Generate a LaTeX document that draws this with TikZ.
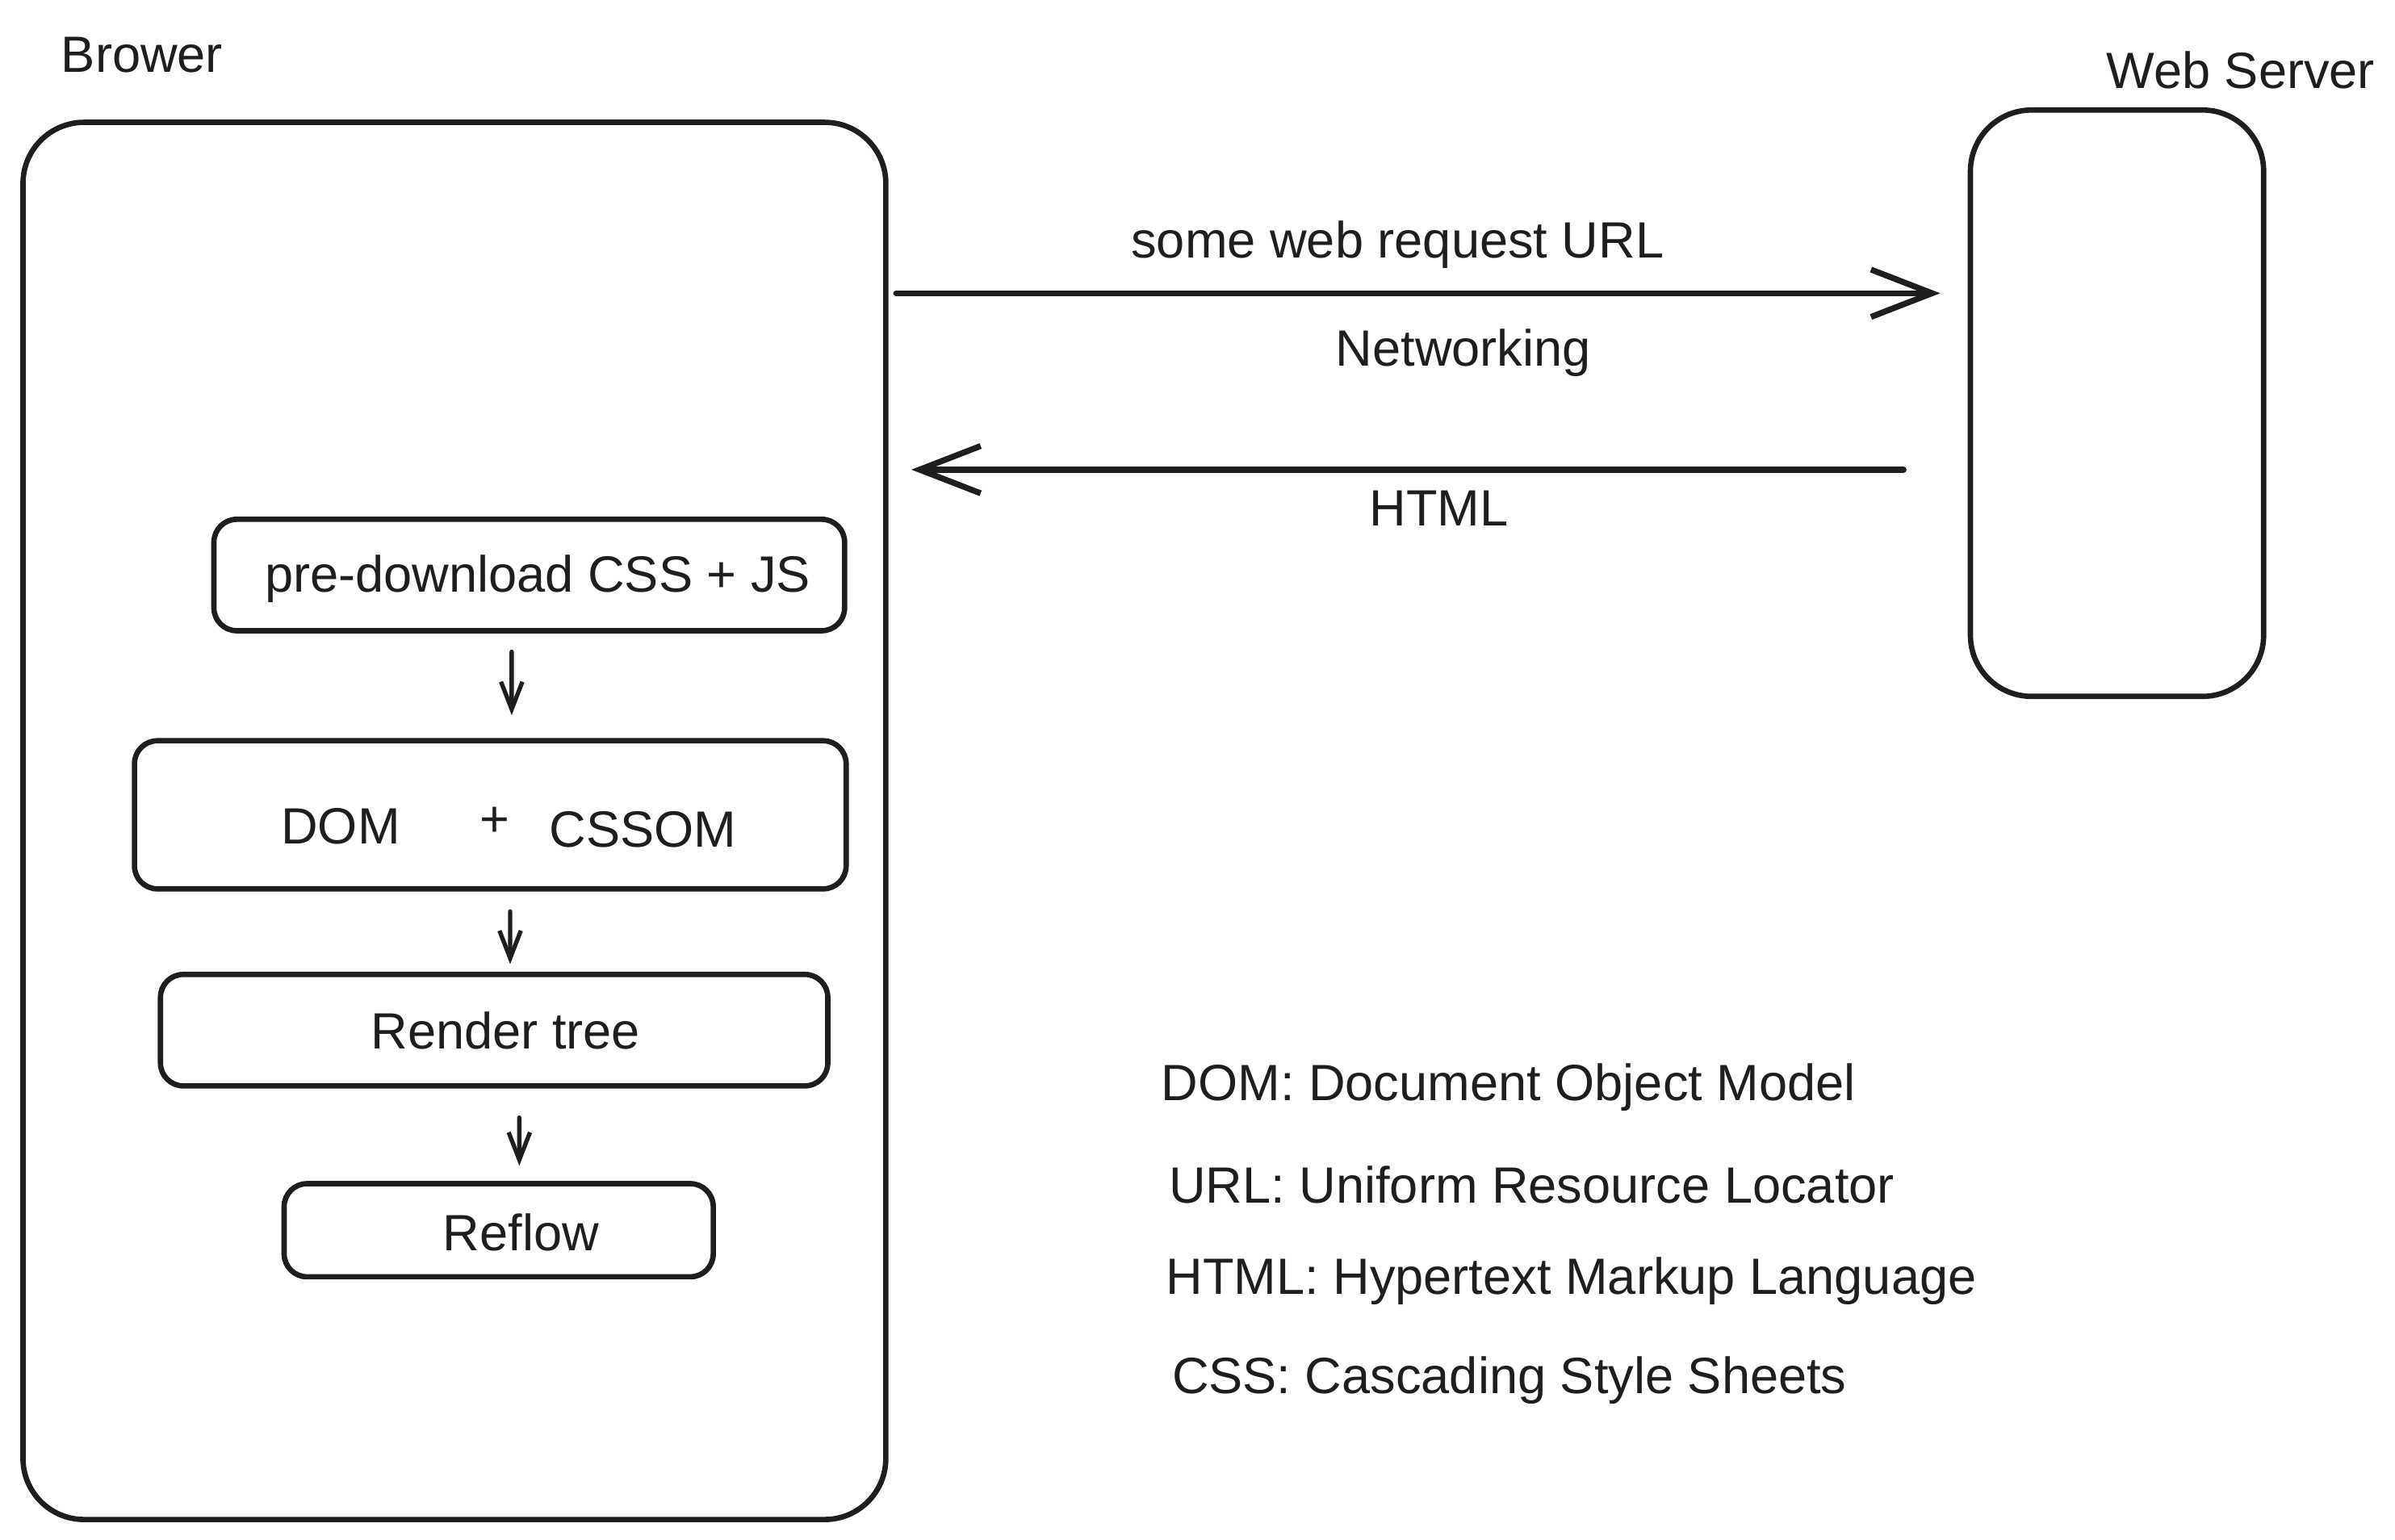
\documentclass[tikz,border=0pt]{standalone}
\usepackage{fontspec}
\setmainfont{Liberation Sans}
\usetikzlibrary{arrows.meta}
\definecolor{ink}{HTML}{1E1E1E}

\tikzset{
  box/.style={draw=ink,line width=2pt,rounded corners=0.3cm,inner sep=0pt},
  bigbox/.style={box,rounded corners=0.8cm},
  txt/.style={text=ink,inner sep=0pt,font=\fontsize{19}{23}\selectfont},
  link/.style={draw=ink,line width=2.2pt,line cap=round,
    -{Straight Barb[length=0.8cm,width=0.62cm,line width=2.2pt]}},
  flow/.style={draw=ink,line width=1.6pt,line cap=round,
    -{Straight Barb[length=0.36cm,width=0.28cm,line width=1.6pt]}}
}

\begin{document}
\begin{tikzpicture}[x=0.02cm,y=-0.02cm]

\useasboundingbox (0,0) rectangle (1568,1008);

% the two machines
\node[bigbox,minimum width=11.3cm,minimum height=18.3cm] (brower) at (297.5,537.5) {};
\node[txt] (browerlbl) at (93,36) {Brower};

\node[bigbox,minimum width=3.84cm,minimum height=7.68cm] (server) at (1386,264) {};
\node[txt] (serverlbl) at (1467,46) {Web Server};

% networking
\coordinate (req) at (0,192);
\coordinate (resp) at (0,307.5);
\draw[link,shorten <=0.1cm,shorten >=0.36cm] (brower.east |- req) -- (server.west |- req);
\draw[link,shorten <=0.84cm,shorten >=0.3cm] (server.west |- resp) -- (brower.east |- resp);

\node[txt] (reqlbl) at (915,160) {some web request URL};
\node[txt] (netlbl) at (958,231) {Networking};
\node[txt] (htmllbl) at (942,333) {HTML};

% steps inside the browser
\node[box,minimum width=8.26cm,minimum height=1.46cm] (pre) at (346.5,376.5) {};
\node[txt] (prelbl) at (352,379) {pre-download CSS + JS};

\node[box,minimum width=9.32cm,minimum height=1.94cm] (dom) at (321,533.5) {};
\node[txt] (domlbl) at (223,541) {DOM};
\node[txt] (pluslbl) at (324,538) {+};
\node[txt] (cssomlbl) at (421,543) {CSSOM};

\node[box,minimum width=8.74cm,minimum height=1.46cm] (render) at (323.5,674.5) {};
\node[txt] (renderlbl) at (331,675) {Render tree};

\node[box,minimum width=5.62cm,minimum height=1.22cm] (reflow) at (326.5,805.5) {};
\node[txt] (reflowlbl) at (341,807) {Reflow};

\draw[flow,shorten <=0.24cm,shorten >=0.3cm] ([xshift=-0.23cm]pre.south) -- ([xshift=0.28cm]dom.north);
\draw[flow,shorten <=0.26cm,shorten >=0.1cm] ([xshift=0.26cm]dom.south) -- ([xshift=0.21cm]render.north);
\draw[flow,shorten <=0.38cm,shorten >=0.2cm] ([xshift=0.33cm]render.south) -- ([xshift=0.27cm]reflow.north);

% legend
\node[txt,anchor=west] (leg1) at (760,712) {DOM: Document Object Model};
\node[txt,anchor=west] (leg2) at (765,776) {URL: Uniform Resource Locator};
\node[txt,anchor=west] (leg3) at (763,839) {HTML: Hypertext Markup Language};
\node[txt,anchor=west] (leg4) at (767,904) {CSS: Cascading Style Sheets};

\end{tikzpicture}
\end{document}
